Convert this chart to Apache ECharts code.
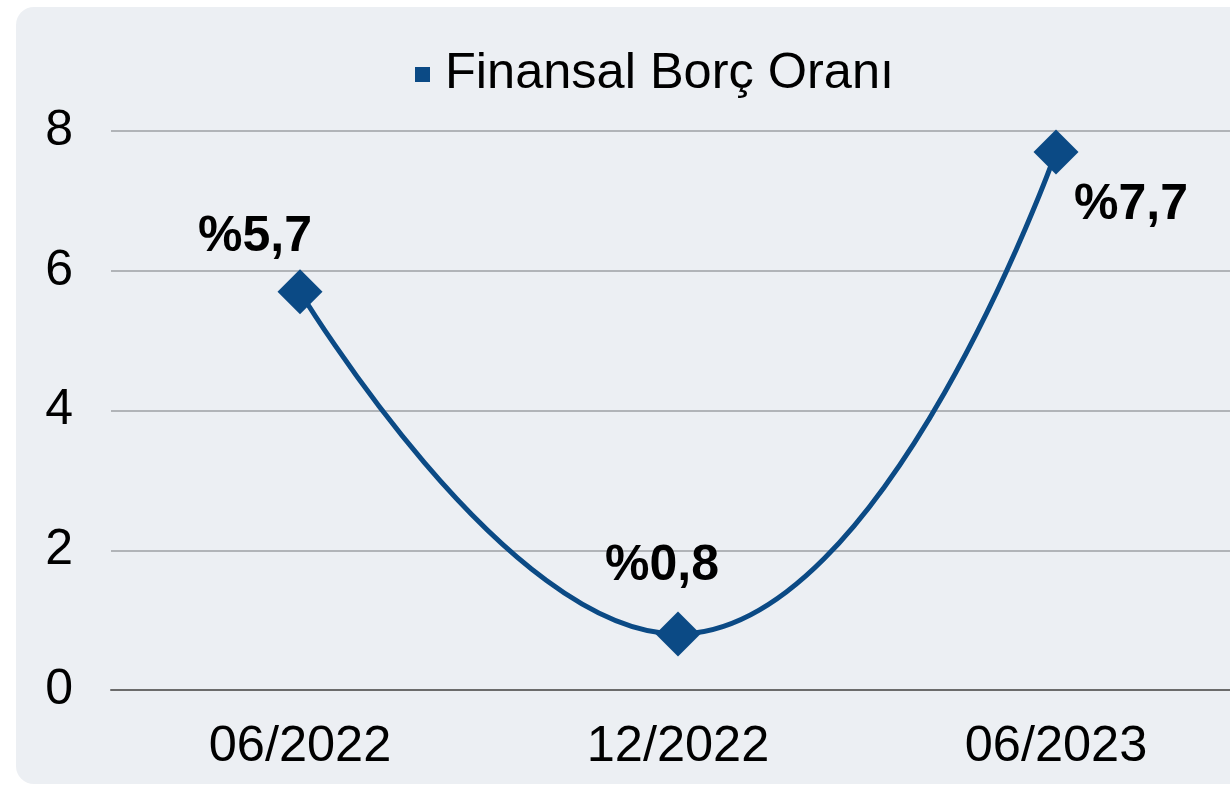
<!DOCTYPE html>
<html>
<head>
<meta charset="utf-8">
<script src="https://cdn.jsdelivr.net/npm/echarts@6/dist/echarts.min.js"></script>
<style>
html, body { margin: 0; padding: 0; background: #ffffff; }
#chart { width: 1230px; height: 785px; }
</style>
</head>
<body>
<div id="chart"></div>
<script>
// values
const periods = ["06/2022", "12/2022", "06/2023"];
const ratios = [5.7, 0.8, 7.7];
const seriesName = "Finansal Borç Oranı";
const yTicks = [0, 2, 4, 6, 8];

// where each value label sits, relative to its point
const labelOffsets = [[-45, -54], [-16, -68], [75, 53]];

const blue = "#0b4a85";
const font = "Liberation Sans, Arial, sans-serif";

let chart = echarts.init(document.getElementById("chart"));

let points = ratios.map(function (v, i) {
    return {
        value: v,
        label: { offset: labelOffsets[i] }
    };
});

chart.setOption({
    animation: false,
    textStyle: { fontFamily: font },
    graphic: [{
        type: "rect",
        z: -10,
        silent: true,
        shape: { x: 16, y: 7, width: 1260, height: 777, r: 18 },
        style: { fill: "#eceff3" }
    }],
    legend: {
        left: 410,
        top: 44,
        icon: "rect",
        itemWidth: 15,
        itemHeight: 15,
        itemGap: 20,
        textStyle: { fontSize: 50.5, color: "#000", fontFamily: font, padding: [0, 0, 0, 10] },
        data: [seriesName]
    },
    grid: { left: 111, width: 1134, top: 131, bottom: 95, outerBoundsMode: "none", containLabel: false },
    xAxis: {
        type: "category",
        data: periods,
        axisTick: { show: false },
        axisLine: { lineStyle: { color: "#6b6b6b", width: 2 } },
        axisLabel: { fontSize: 50.5, color: "#000", margin: 32, fontFamily: font }
    },
    yAxis: {
        type: "value",
        min: yTicks[0],
        max: yTicks[yTicks.length - 1],
        interval: 2,
        axisLine: { show: false },
        axisTick: { show: false },
        splitLine: { lineStyle: { color: "#b1b4b8", width: 2 } },
        axisLabel: { fontSize: 50, color: "#000", margin: 38, fontFamily: font }
    },
    series: [{
        name: seriesName,
        type: "line",
        data: points,
        smooth: 0.5,
        symbol: "diamond",
        symbolSize: 45,
        itemStyle: { color: blue },
        lineStyle: { color: blue, width: 5 },
        label: {
            show: true,
            position: "inside",
            align: "center",
            verticalAlign: "middle",
            fontSize: 50,
            fontWeight: "bold",
            color: "#000",
            fontFamily: font,
            formatter: function (p) {
                return "%" + String(p.value).replace(".", ",");
            }
        }
    }]
});
</script>
</body>
</html>
